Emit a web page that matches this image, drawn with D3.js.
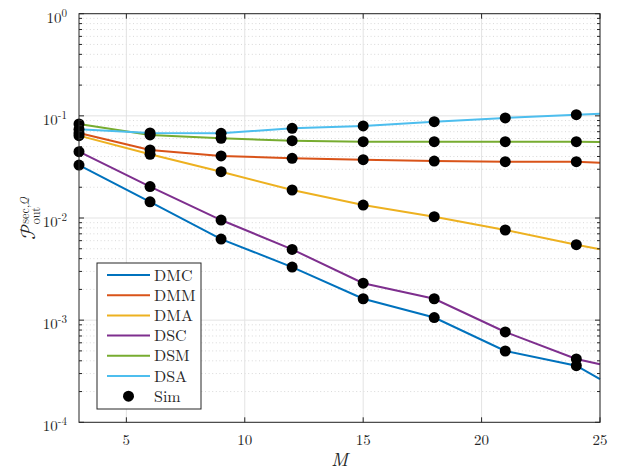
<!DOCTYPE html>
<html>
<head>
<meta charset="utf-8">
<script src="https://cdn.jsdelivr.net/npm/d3@7"></script>
<style>
  body { margin: 0; background: #fff; }
  svg text { fill: #262626; }
</style>
</head>
<body>
<div id="chart"></div>
<script>
// M values where the curves are evaluated
var mVals = [3, 6, 9, 12, 15, 18, 21, 24, 25]
// simulation points are taken at these M
var simM = [3, 6, 9, 12, 15, 18, 21, 24]

var DMC = [0.0330, 0.0144, 0.00622, 0.00331, 0.00162, 0.00106, 0.000499, 0.000358, 0.000265]
var DMM = [0.0680, 0.0463, 0.0405, 0.0384, 0.0372, 0.0361, 0.0356, 0.0356, 0.0348]
var DMA = [0.0640, 0.0420, 0.0284, 0.0188, 0.0134, 0.0103, 0.00763, 0.00548, 0.00494]
var DSC = [0.0446, 0.0203, 0.00955, 0.00493, 0.00230, 0.00162, 0.000766, 0.000417, 0.000370]
var DSM = [0.0832, 0.0650, 0.0603, 0.0571, 0.0558, 0.0558, 0.0558, 0.0558, 0.0555]
var DSA = [0.0738, 0.0680, 0.0675, 0.0755, 0.0796, 0.0877, 0.0953, 0.1026, 0.1050]

var names = ["DMC", "DMM", "DMA", "DSC", "DSM", "DSA"]
var colors = ["#0072BD", "#D95319", "#EDB120", "#7E2F8E", "#77AC30", "#4DBEEE"]
var xTicks = [5, 10, 15, 20, 25]
var yTicks = [1e-4, 1e-3, 1e-2, 1e-1, 1]

var series = [DMC, DMM, DMA, DSC, DSM, DSA].map(function (vals, i) {
  return {
    name: names[i],
    color: colors[i],
    values: vals.map(function (v, j) { return { m: mVals[j], v: v } })
  }
})

var W = 626, H = 472
var pLeft = 79, pRight = 600, pTop = 13.7, pBottom = 422.3
var serif = "'Latin Modern Roman', 'Liberation Serif', serif"
var mathFont = "'Latin Modern Math', 'STIX Two Math', serif"

var svg = d3.select("#chart").append("svg")
  .attr("width", W)
  .attr("height", H)
  .style("font-family", serif)

var x = d3.scaleLinear().domain([3, 25]).range([pLeft, pRight])
var y = d3.scaleLog().domain([1e-4, 1]).range([pBottom, pTop])

// minor values on the log axis
var minor = []
for (var e = -4; e < 0; e++) {
  for (var k = 2; k <= 9; k++) minor.push(k * Math.pow(10, e))
}

// minor grid (dotted)
svg.append("g").selectAll("line")
  .data(minor).enter().append("line")
  .attr("x1", pLeft).attr("x2", pRight)
  .attr("y1", function (d) { return y(d) }).attr("y2", function (d) { return y(d) })
  .attr("stroke", "#cfcfcf")
  .attr("stroke-width", 0.8)
  .attr("stroke-dasharray", "1,2.6")

// major grid
var grid = svg.append("g").attr("stroke", "#e3e3e3").attr("stroke-width", 1)
grid.selectAll(".gx").data(xTicks).enter().append("line")
  .attr("x1", function (d) { return x(d) }).attr("x2", function (d) { return x(d) })
  .attr("y1", pTop).attr("y2", pBottom)
grid.selectAll(".gy").data(yTicks).enter().append("line")
  .attr("x1", pLeft).attr("x2", pRight)
  .attr("y1", function (d) { return y(d) }).attr("y2", function (d) { return y(d) })

// curves
var line = d3.line()
  .x(function (d) { return x(d.m) })
  .y(function (d) { return y(d.v) })

svg.append("g").selectAll("path")
  .data(series).enter().append("path")
  .attr("d", function (d) { return line(d.values) })
  .attr("fill", "none")
  .attr("stroke", function (d) { return d.color })
  .attr("stroke-width", 2)

// simulation markers
svg.append("g").selectAll("g")
  .data(series).enter().append("g")
  .selectAll("circle")
  .data(function (d) { return d.values.filter(function (p) { return simM.indexOf(p.m) >= 0 }) })
  .enter().append("circle")
  .attr("cx", function (d) { return x(d.m) })
  .attr("cy", function (d) { return y(d.v) })
  .attr("r", 5.5)
  .attr("fill", "#000")

// axes box with ticks
var ax = svg.append("g").attr("stroke", "#262626").attr("fill", "none")
ax.append("rect")
  .attr("x", pLeft).attr("y", pTop)
  .attr("width", pRight - pLeft).attr("height", pBottom - pTop)
  .attr("stroke-width", 1)

ax.selectAll(".tx").data(xTicks).enter().append("path")
  .attr("d", function (d) {
    return "M" + x(d) + "," + pBottom + "v-5M" + x(d) + "," + pTop + "v5"
  })
ax.selectAll(".ty").data(yTicks).enter().append("path")
  .attr("d", function (d) {
    return "M" + pLeft + "," + y(d) + "h5M" + pRight + "," + y(d) + "h-5"
  })
ax.selectAll(".tm").data(minor).enter().append("path")
  .attr("d", function (d) {
    return "M" + pLeft + "," + y(d) + "h3M" + pRight + "," + y(d) + "h-3"
  })

// tick labels
svg.append("g").selectAll("text")
  .data(xTicks).enter().append("text")
  .attr("x", function (d) { return x(d) })
  .attr("y", 445)
  .attr("text-anchor", "middle")
  .style("font-size", "15px")
  .text(function (d) { return d })

var yl = svg.append("g").selectAll("text")
  .data(yTicks).enter().append("text")
  .attr("x", 67)
  .attr("y", function (d) { return y(d) + 9 })
  .attr("text-anchor", "end")
  .style("font-size", "15px")
yl.append("tspan").text("10")
yl.append("tspan")
  .attr("dy", -6)
  .style("font-size", "11px")
  .text(function (d) { return Math.round(Math.log10(d)) })

// axis titles
svg.append("text")
  .attr("x", (pLeft + pRight) / 2)
  .attr("y", 466)
  .attr("text-anchor", "middle")
  .style("font-size", "19px")
  .style("font-style", "italic")
  .text("M")

var yt = svg.append("text")
  .attr("transform", "translate(35," + ((pTop + pBottom) / 2) + ") rotate(-90)")
  .attr("text-anchor", "middle")
  .style("font-size", "21px")
yt.append("tspan").style("font-family", mathFont).text("𝒫")
yt.append("tspan").attr("dy", -6).style("font-size", "12px").text("sec,")
yt.append("tspan").style("font-size", "12px").style("font-family", mathFont).text("𝒬")
yt.append("tspan").attr("dx", -28).attr("dy", 11).style("font-size", "12px").text("out")

// legend
var lg = svg.append("g").attr("transform", "translate(97,263)")
lg.append("rect")
  .attr("width", 104).attr("height", 146)
  .attr("fill", "#fff")
  .attr("stroke", "#262626")
  .attr("stroke-width", 1)

var items = series.map(function (s) { return { name: s.name, color: s.color } })
items.push({ name: "Sim", color: null })

var row = lg.selectAll(".item").data(items).enter().append("g")
  .attr("transform", function (d, i) { return "translate(0," + (12 + i * 20.2) + ")" })
row.filter(function (d) { return d.color }).append("line")
  .attr("x1", 10).attr("x2", 53)
  .attr("stroke", function (d) { return d.color })
  .attr("stroke-width", 2)
row.filter(function (d) { return !d.color }).append("circle")
  .attr("cx", 31.5).attr("r", 5.5).attr("fill", "#000")
row.append("text")
  .attr("x", 57)
  .attr("y", 5.5)
  .style("font-size", "16px")
  .text(function (d) { return d.name })
</script>
</body>
</html>
